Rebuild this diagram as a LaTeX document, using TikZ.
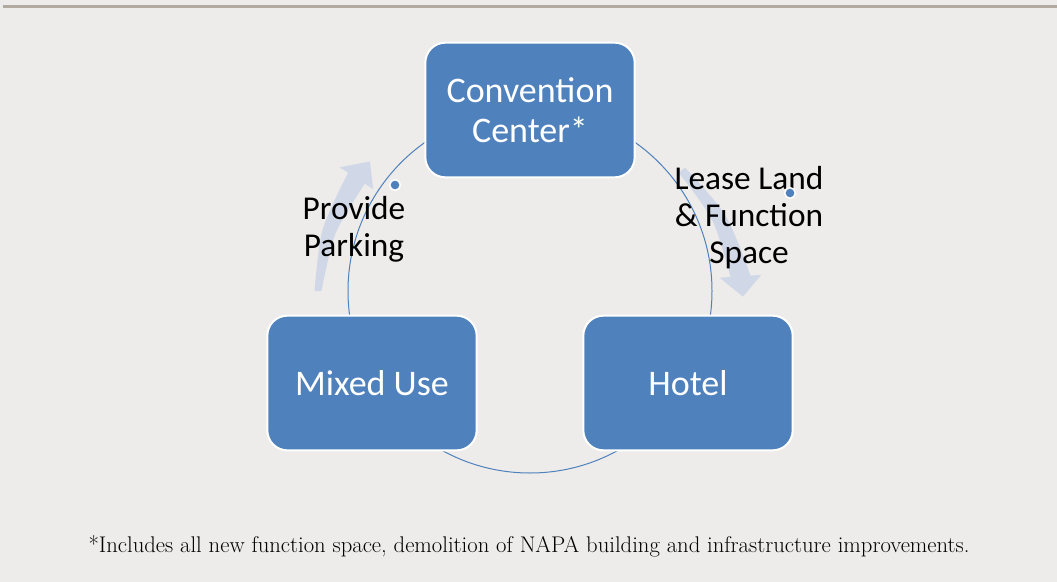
\documentclass[tikz,border=0pt]{standalone}
\usepackage{fontspec}
\newfontfamily\calib{Carlito}
\definecolor{boxblue}{RGB}{79,129,189}
\definecolor{paleblue}{RGB}{208,216,232}
\definecolor{pagegray}{RGB}{238,236,234}
\definecolor{bargray}{RGB}{178,169,161}

\begin{document}
\begin{tikzpicture}[x=0.75pt,y=0.75pt,yscale=-1,xscale=1,
  stage/.style={draw=white, line width=1.5pt, fill=boxblue, rounded corners=15pt,
    minimum width=157pt, minimum height=101pt, inner sep=0pt, align=center,
    text=white, font=\calib\fontsize{27}{30}\selectfont},
  flowlabel/.style={inner sep=0pt, align=center, font=\calib\fontsize{25}{27.75}\selectfont},
  marker/.style={circle, draw=white, line width=1.2pt, fill=boxblue, inner sep=0pt, minimum size=8pt},
  flowarrow/.style={fill=paleblue}]

%Background
\fill[pagegray] (0,0) rectangle (1057,582);
\useasboundingbox (0,0) rectangle (1057,582);
%Top bar
\draw[bargray, line width=2.25pt] (3,6.2) -- (1057,6.2);

%Curved arrow up (Provide Parking)
\fill[flowarrow] (314.5,291) -- plot[smooth] coordinates {(314.5,291) (322.6,229.6) (348.0,172.8)}
  -- (339.6,167.4) -- (369.9,161.4) -- (373.2,189.2) -- (364.8,183.7)
  -- plot[smooth] coordinates {(364.8,183.7) (335.6,233.4) (321.5,291)} -- cycle;
%Curved arrow down (Lease Land)
\fill[flowarrow] (685.0,167.7) -- plot[smooth] coordinates {(685.0,167.7) (725.3,215.1) (750.5,275.6)}
  -- (761.4,274.8) -- (742.9,296.6) -- (719.5,277.7) -- (730.5,277.0)
  -- plot[smooth] coordinates {(730.5,277.0) (712.2,220.2) (678.7,172.7)} -- cycle;

%Ring
\coordinate (ring) at (530,291);
\draw[boxblue, line width=0.75pt] (ring) circle (182);

%Labels
\node[flowlabel] (parking) at (354,229) {Provide\\Parking};
\node[flowlabel] (lease) at (749,217.5) {Lease Land\\\& Function\\Space};

%Stages
\node[stage] (conv) at (530,110) {Convention\\Center*};
\node[stage] (mixed) at (372,383) {Mixed Use};
\node[stage] (hotel) at (688,383) {Hotel};

%Dots
\node[marker] (pdot) at (395,185) {};
\node[marker] (ldot) at (790,193) {};

%Footnote
\node[inner sep=0pt, font=\fontsize{17}{20}\selectfont] (note) at (529,546)
  {*Includes all new function space, demolition of NAPA building and infrastructure improvements.};

\end{tikzpicture}
\end{document}
